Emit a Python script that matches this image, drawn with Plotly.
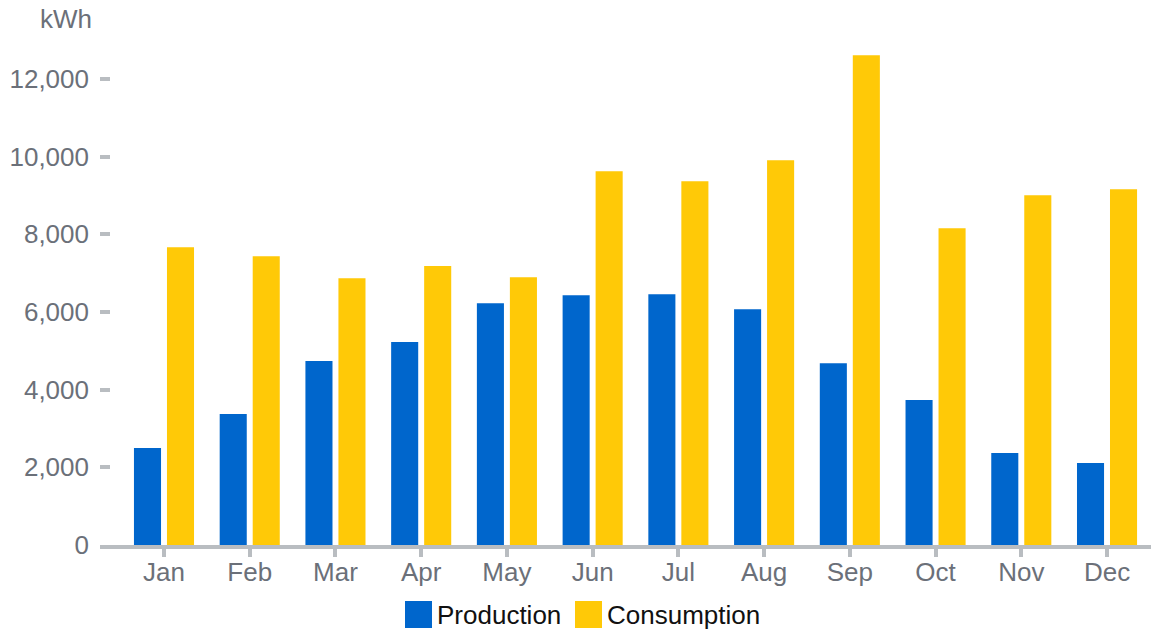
import plotly.graph_objects as go

months = ["Jan", "Feb", "Mar", "Apr", "May", "Jun", "Jul", "Aug", "Sep", "Oct", "Nov", "Dec"]
production = [2500, 3370, 4735, 5225, 6225, 6430, 6455, 6070, 4680, 3730, 2370, 2110]
consumption = [7665, 7435, 6870, 7180, 6895, 9620, 9365, 9905, 12605, 8155, 9005, 9160]
y_ticks = [0, 2000, 4000, 6000, 8000, 10000, 12000]
series_names = ["Production", "Consumption"]
series_colors = ["#0066cc", "#ffc907"]

W, H = 1151, 632
ML, MR, MT, MB = 100, 0, 40, 632 - 545
PW, PH = W - ML - MR, H - MT - MB

def px_x(px):
    return (px - ML) / PW

def px_y(py):
    return (H - MB - py) / PH

FONT = "Liberation Sans, Arial, sans-serif"
GRAY = "#6b7079"
LINE = "#b9bdc1"

fig = go.Figure()
for name, vals, col in zip(series_names, [production, consumption], series_colors):
    fig.add_trace(go.Bar(x=months, y=vals, name=name, marker=dict(color=col, line=dict(width=0)),
                         showlegend=False))

fig.update_layout(
    width=W, height=H,
    margin=dict(l=ML, r=MR, t=MT, b=MB, pad=0),
    paper_bgcolor="white", plot_bgcolor="white",
    barmode="group", bargap=0.23, bargroupgap=0.18,
    font=dict(family=FONT, size=26, color=GRAY),
    xaxis=dict(
        type="category", range=[-0.7465, 11.513],
        showline=True, linecolor=LINE, linewidth=4,
        ticks="outside", ticklen=8, tickwidth=4, tickcolor=LINE,
        showgrid=False, zeroline=False,
        ticklabelstandoff=-7,
        tickfont=dict(size=26, color=GRAY, family=FONT),
    ),
    yaxis=dict(
        range=[0, 13000], tickvals=y_ticks, tickformat=",d",
        showline=False, showgrid=False, zeroline=False,
        ticks="inside", ticklen=10, tickwidth=4, tickcolor=LINE,
        ticklabelstandoff=10,
        tickfont=dict(size=26, color=GRAY, family=FONT),
    ),
)

# unit label
fig.add_annotation(text="kWh", xref="paper", yref="paper", x=px_x(93), y=px_y(19),
                   xanchor="right", yanchor="middle", showarrow=False, borderpad=0,
                   font=dict(size=26, color=GRAY, family=FONT))

# custom legend
legend_items = [(405, series_names[0], series_colors[0]), (575, series_names[1], series_colors[1])]
for x0, name, col in legend_items:
    fig.add_shape(type="rect", xref="paper", yref="paper",
                  x0=px_x(x0), x1=px_x(x0 + 27), y0=px_y(628), y1=px_y(601),
                  fillcolor=col, line=dict(width=0))
    fig.add_annotation(text=name, xref="paper", yref="paper", x=px_x(x0 + 31), y=px_y(615),
                       xanchor="left", yanchor="middle", showarrow=False, borderpad=0,
                       font=dict(size=26, color="#111111", family=FONT))

fig.write_html("out.html", config={"displayModeBar": False},
               post_script="document.body.style.margin='0px';")
